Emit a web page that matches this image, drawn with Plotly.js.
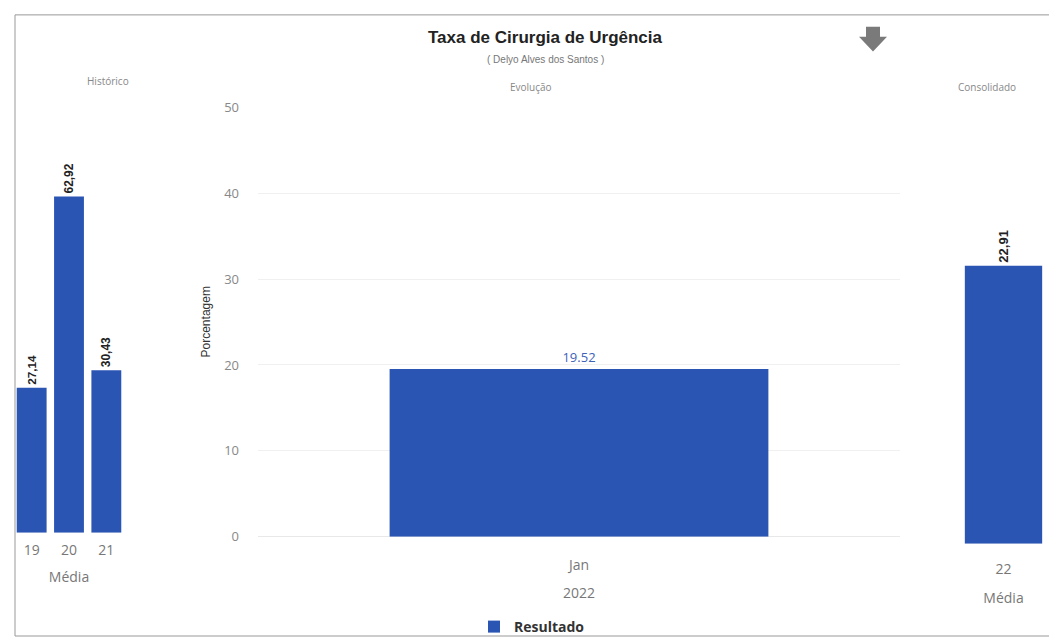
<!DOCTYPE html>
<html><head><meta charset="utf-8">
<script src="https://cdn.plot.ly/plotly-3.0.1.min.js"></script>
<style>html,body{margin:0;padding:0;background:#fff}#chart{width:1049px;height:643px}</style>
</head><body><div id="chart"></div>
<script>
// Data
const histCategories = ['19', '20', '21'];
const histValues = [27.14, 62.92, 30.43];
const evoCategories = ['Jan'];
const evoValues = [19.52];
const consCategories = ['22'];
const consValues = [22.91];
const seriesName = 'Resultado';

const W = 1049, H = 643;
const px = x => x / W;
const py = y => 1 - y / H;
const blue = '#2b55b3';
const commaFmt = v => v.toFixed(2).replace('.', ',');

const traces = [
  {type:'bar', x: histCategories, y: histValues, xaxis:'x', yaxis:'y',
   marker:{color: blue}, width:0.8, showlegend:false,
   text: histValues.map(commaFmt), textposition:'outside', textangle:-90,
   textfont:{family:'Liberation Sans Narrow, Liberation Sans, Arial', size:13, color:'#222', weight:'bold'},
   cliponaxis:false},
  {type:'bar', x: evoCategories, y: evoValues, xaxis:'x2', yaxis:'y2', name: seriesName,
   marker:{color: blue}, width:0.59, showlegend:true,
   text: evoValues.map(v => v.toFixed(2)), textposition:'outside',
   textfont:{family:'Open Sans, Liberation Sans', size:13, color:'#3d62b8'},
   cliponaxis:false},
  {type:'bar', x: consCategories, y: consValues, xaxis:'x3', yaxis:'y3',
   marker:{color: blue}, width:0.85, showlegend:false,
   text: consValues.map(commaFmt), textposition:'outside', textangle:-90,
   textfont:{family:'Liberation Sans Narrow, Liberation Sans, Arial', size:13, color:'#222', weight:'bold'},
   cliponaxis:false}
];

const tickFont = {family:'Open Sans, Liberation Sans', size:14, color:'#777'};
const titleFont = {family:'Open Sans, Liberation Sans', size:14, color:'#777'};

// arrow icon path
function arrowPath(){
  const pts = [[866,27],[880,27],[880,37],[887,37],[873,52],[859,37],[866,37]];
  return 'M' + pts.map(p => px(p[0]).toFixed(5)+','+py(p[1]).toFixed(5)).join(' L') + ' Z';
}

const layout = {
  width: W, height: H,
  margin:{l:0,r:0,t:0,b:0},
  paper_bgcolor:'#fff', plot_bgcolor:'#fff',
  font:{family:'Open Sans, Liberation Sans', color:'#555'},
  xaxis:{domain:[px(13), px(125)], type:'category', showgrid:false, showline:false, zeroline:false,
    ticks:'', tickfont:tickFont, ticklabelstandoff:7,
    title:{text:'Média', font:titleFont, standoff:14}},
  yaxis:{domain:[py(537), py(106)], range:[0,80], visible:false},
  xaxis2:{domain:[px(258), px(900)], type:'category', showgrid:false, showline:false, zeroline:false,
    ticks:'', tickfont:tickFont, ticklabelstandoff:22,
    title:{text:'2022', font:titleFont, standoff:15}},
  yaxis2:{domain:[py(541), py(108)], range:[0,50], anchor:'x2', showgrid:true, gridcolor:'#f0f0f0',
    zeroline:true, zerolinecolor:'#e8e8e8', showline:false, ticks:'', dtick:10,
    tickfont:{family:'Open Sans, Liberation Sans', size:13, color:'#888'}, ticklabelstandoff:18},
  xaxis3:{domain:[px(958), 1], type:'category', showgrid:false, showline:false, zeroline:false,
    ticks:'', tickfont:tickFont, ticklabelstandoff:15, anchor:'y3',
    title:{text:'Média', font:titleFont, standoff:16}},
  yaxis3:{domain:[py(548), py(181)], range:[0,30], visible:false, anchor:'x3'},
  legend:{orientation:'h', x:px(532), xanchor:'center', y:py(632), yanchor:'middle',
    bgcolor:'rgba(0,0,0,0)',
    font:{family:'Open Sans, Liberation Sans', size:14, color:'#333', weight:'bold'}},
  shapes:[
    {type:'rect', xref:'paper', yref:'paper', x0:px(15), x1:1.02, y0:py(641), y1:py(15),
     line:{color:'#999', width:1}, fillcolor:'rgba(0,0,0,0)', layer:'below'},
    {type:'path', xref:'paper', yref:'paper', path: arrowPath(), fillcolor:'#7a7a7a', line:{width:0}}
  ],
  annotations:[
    {text:'<b>Taxa de Cirurgia de Urgência</b>', xref:'paper', yref:'paper', x:px(545), y:py(38),
     yanchor:'middle', showarrow:false, font:{family:'Liberation Sans, Arial', size:17, color:'#222'}},
    {text:'( Delyo Alves dos Santos )', xref:'paper', yref:'paper', x:px(545), y:py(60),
     yanchor:'middle', showarrow:false, font:{family:'Liberation Sans, Arial', size:10, color:'#777'}},
    {text:'Histórico', xref:'paper', yref:'paper', x:px(85), y:py(82),
     yanchor:'middle', showarrow:false, font:{family:'Open Sans, Liberation Sans', size:10, color:'#888'}},
    {text:'Evolução', xref:'paper', yref:'paper', x:px(531), y:py(88),
     yanchor:'middle', showarrow:false, font:{family:'Open Sans, Liberation Sans', size:10, color:'#888'}},
    {text:'Consolidado', xref:'paper', yref:'paper', x:px(956), y:py(88), xanchor:'left',
     yanchor:'middle', showarrow:false, font:{family:'Open Sans, Liberation Sans', size:10, color:'#888'}},
    {text:'Porcentagem', xref:'paper', yref:'paper', x:px(197), y:py(325), textangle:-90,
     yanchor:'middle', showarrow:false, font:{family:'Liberation Sans Narrow, Liberation Sans', size:12, color:'#333'}}
  ]
};

Plotly.newPlot('chart', traces, layout, {displayModeBar:false, staticPlot:true});
</script></body></html>
